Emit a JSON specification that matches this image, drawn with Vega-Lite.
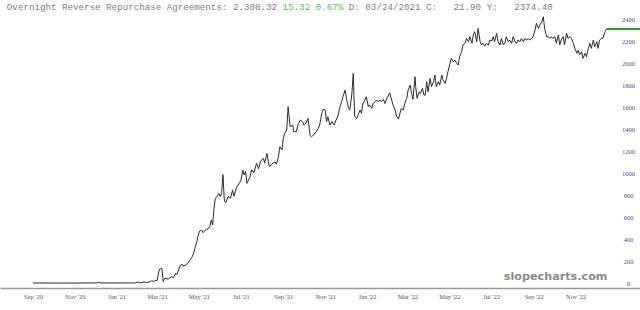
{
  "$schema": "https://vega.github.io/schema/vega-lite/v6.json",
  "width": 640,
  "height": 288,
  "padding": {"left": 0, "top": 0, "right": 0, "bottom": 22},
  "autosize": {"type": "none"},
  "background": "white",
  "config": {"view": {"stroke": null}, "axis": {"labelOverlap": false}, "axisY": {"tickCount": 13}},
  "datasets": {
    "rrp": [
      {"date": "2020-09-01", "value": 0.5}, {"date": "2020-10-10", "value": 0.3}, {"date": "2020-11-23", "value": 0.5},
      {"date": "2020-12-03", "value": 1}, {"date": "2020-12-06", "value": 6}, {"date": "2020-12-09", "value": 1},
      {"date": "2021-01-06", "value": 0.5}, {"date": "2021-01-28", "value": 1}, {"date": "2021-02-01", "value": 8},
      {"date": "2021-02-05", "value": 3}, {"date": "2021-02-10", "value": 10}, {"date": "2021-02-14", "value": 5},
      {"date": "2021-02-19", "value": 12}, {"date": "2021-02-21", "value": 20}, {"date": "2021-02-24", "value": 15},
      {"date": "2021-02-27", "value": 25}, {"date": "2021-03-01", "value": 22}, {"date": "2021-03-04", "value": 118},
      {"date": "2021-03-06", "value": 133}, {"date": "2021-03-08", "value": 133}, {"date": "2021-03-10", "value": 12},
      {"date": "2021-03-12", "value": 43}, {"date": "2021-03-17", "value": 36}, {"date": "2021-03-22", "value": 57},
      {"date": "2021-03-25", "value": 50}, {"date": "2021-03-28", "value": 88}, {"date": "2021-03-30", "value": 80},
      {"date": "2021-04-03", "value": 148}, {"date": "2021-04-06", "value": 173}, {"date": "2021-04-08", "value": 155},
      {"date": "2021-04-12", "value": 164}, {"date": "2021-04-15", "value": 185}, {"date": "2021-04-18", "value": 209},
      {"date": "2021-04-20", "value": 225}, {"date": "2021-04-23", "value": 264}, {"date": "2021-04-25", "value": 315},
      {"date": "2021-04-28", "value": 376}, {"date": "2021-04-30", "value": 436}, {"date": "2021-05-02", "value": 473},
      {"date": "2021-05-05", "value": 482}, {"date": "2021-05-07", "value": 457}, {"date": "2021-05-10", "value": 480},
      {"date": "2021-05-12", "value": 488}, {"date": "2021-05-15", "value": 497}, {"date": "2021-05-17", "value": 518},
      {"date": "2021-05-19", "value": 573}, {"date": "2021-05-21", "value": 527}, {"date": "2021-05-23", "value": 680},
      {"date": "2021-05-25", "value": 770}, {"date": "2021-05-28", "value": 794}, {"date": "2021-05-30", "value": 815},
      {"date": "2021-06-01", "value": 785}, {"date": "2021-06-03", "value": 815}, {"date": "2021-06-05", "value": 985},
      {"date": "2021-06-07", "value": 755}, {"date": "2021-06-09", "value": 730}, {"date": "2021-06-13", "value": 790},
      {"date": "2021-06-16", "value": 770}, {"date": "2021-06-19", "value": 845}, {"date": "2021-06-21", "value": 790},
      {"date": "2021-06-25", "value": 870}, {"date": "2021-06-27", "value": 890}, {"date": "2021-07-01", "value": 930},
      {"date": "2021-07-04", "value": 1027}, {"date": "2021-07-06", "value": 982}, {"date": "2021-07-08", "value": 1015},
      {"date": "2021-07-10", "value": 906}, {"date": "2021-07-14", "value": 960}, {"date": "2021-07-17", "value": 1030},
      {"date": "2021-07-20", "value": 1000}, {"date": "2021-07-24", "value": 1088}, {"date": "2021-07-27", "value": 1040},
      {"date": "2021-07-30", "value": 1110}, {"date": "2021-08-03", "value": 1133}, {"date": "2021-08-05", "value": 1090},
      {"date": "2021-08-08", "value": 1179}, {"date": "2021-08-10", "value": 1110}, {"date": "2021-08-12", "value": 1058},
      {"date": "2021-08-15", "value": 1080}, {"date": "2021-08-20", "value": 1103}, {"date": "2021-08-22", "value": 1080},
      {"date": "2021-08-25", "value": 1150}, {"date": "2021-08-27", "value": 1239}, {"date": "2021-08-30", "value": 1210},
      {"date": "2021-09-01", "value": 1315}, {"date": "2021-09-03", "value": 1361}, {"date": "2021-09-06", "value": 1391},
      {"date": "2021-09-08", "value": 1603}, {"date": "2021-09-11", "value": 1421}, {"date": "2021-09-15", "value": 1436},
      {"date": "2021-09-16", "value": 1376}, {"date": "2021-09-20", "value": 1376}, {"date": "2021-09-23", "value": 1451},
      {"date": "2021-09-26", "value": 1482}, {"date": "2021-09-29", "value": 1467}, {"date": "2021-10-01", "value": 1436},
      {"date": "2021-10-04", "value": 1451}, {"date": "2021-10-07", "value": 1497}, {"date": "2021-10-10", "value": 1345},
      {"date": "2021-10-12", "value": 1330}, {"date": "2021-10-15", "value": 1345}, {"date": "2021-10-19", "value": 1376},
      {"date": "2021-10-22", "value": 1406}, {"date": "2021-10-24", "value": 1436}, {"date": "2021-10-27", "value": 1542},
      {"date": "2021-10-29", "value": 1579}, {"date": "2021-11-01", "value": 1573}, {"date": "2021-11-03", "value": 1467},
      {"date": "2021-11-05", "value": 1512}, {"date": "2021-11-08", "value": 1436}, {"date": "2021-11-11", "value": 1467},
      {"date": "2021-11-14", "value": 1436}, {"date": "2021-11-17", "value": 1482}, {"date": "2021-11-20", "value": 1527},
      {"date": "2021-11-22", "value": 1588}, {"date": "2021-11-25", "value": 1648}, {"date": "2021-11-27", "value": 1694},
      {"date": "2021-11-30", "value": 1754}, {"date": "2021-12-02", "value": 1679}, {"date": "2021-12-05", "value": 1588},
      {"date": "2021-12-07", "value": 1573}, {"date": "2021-12-10", "value": 1724}, {"date": "2021-12-12", "value": 1906},
      {"date": "2021-12-14", "value": 1512}, {"date": "2021-12-17", "value": 1497}, {"date": "2021-12-19", "value": 1527},
      {"date": "2021-12-22", "value": 1573}, {"date": "2021-12-24", "value": 1542}, {"date": "2021-12-26", "value": 1633},
      {"date": "2021-12-29", "value": 1663}, {"date": "2021-12-31", "value": 1694}, {"date": "2022-01-03", "value": 1603},
      {"date": "2022-01-05", "value": 1618}, {"date": "2022-01-08", "value": 1588}, {"date": "2022-01-10", "value": 1633},
      {"date": "2022-01-13", "value": 1648}, {"date": "2022-01-15", "value": 1663}, {"date": "2022-01-17", "value": 1648},
      {"date": "2022-01-20", "value": 1664}, {"date": "2022-01-22", "value": 1648}, {"date": "2022-01-25", "value": 1670},
      {"date": "2022-01-27", "value": 1633}, {"date": "2022-01-30", "value": 1679}, {"date": "2022-02-01", "value": 1700},
      {"date": "2022-02-03", "value": 1730}, {"date": "2022-02-06", "value": 1664}, {"date": "2022-02-08", "value": 1618},
      {"date": "2022-02-11", "value": 1573}, {"date": "2022-02-13", "value": 1518}, {"date": "2022-02-16", "value": 1490},
      {"date": "2022-02-18", "value": 1542}, {"date": "2022-02-20", "value": 1588}, {"date": "2022-02-23", "value": 1573},
      {"date": "2022-02-25", "value": 1633}, {"date": "2022-02-28", "value": 1679}, {"date": "2022-03-02", "value": 1754},
      {"date": "2022-03-05", "value": 1800}, {"date": "2022-03-07", "value": 1724}, {"date": "2022-03-09", "value": 1670},
      {"date": "2022-03-12", "value": 1876}, {"date": "2022-03-13", "value": 1785}, {"date": "2022-03-15", "value": 1679},
      {"date": "2022-03-18", "value": 1739}, {"date": "2022-03-20", "value": 1724}, {"date": "2022-03-23", "value": 1770},
      {"date": "2022-03-25", "value": 1709}, {"date": "2022-03-27", "value": 1709}, {"date": "2022-03-29", "value": 1830},
      {"date": "2022-03-31", "value": 1739}, {"date": "2022-04-03", "value": 1861}, {"date": "2022-04-05", "value": 1785},
      {"date": "2022-04-08", "value": 1830}, {"date": "2022-04-10", "value": 1891}, {"date": "2022-04-12", "value": 1785},
      {"date": "2022-04-15", "value": 1830}, {"date": "2022-04-17", "value": 1800}, {"date": "2022-04-20", "value": 1891},
      {"date": "2022-04-22", "value": 1845}, {"date": "2022-04-25", "value": 1815}, {"date": "2022-04-27", "value": 1861},
      {"date": "2022-04-29", "value": 1921}, {"date": "2022-05-02", "value": 1997}, {"date": "2022-05-04", "value": 2042},
      {"date": "2022-05-07", "value": 2012}, {"date": "2022-05-09", "value": 2027}, {"date": "2022-05-12", "value": 1997},
      {"date": "2022-05-14", "value": 1982}, {"date": "2022-05-16", "value": 2058}, {"date": "2022-05-19", "value": 2103},
      {"date": "2022-05-21", "value": 2164}, {"date": "2022-05-24", "value": 2179}, {"date": "2022-05-26", "value": 2224},
      {"date": "2022-05-29", "value": 2194}, {"date": "2022-05-31", "value": 2240}, {"date": "2022-06-03", "value": 2179},
      {"date": "2022-06-05", "value": 2255}, {"date": "2022-06-07", "value": 2285}, {"date": "2022-06-10", "value": 2194},
      {"date": "2022-06-12", "value": 2315}, {"date": "2022-06-15", "value": 2194}, {"date": "2022-06-17", "value": 2164},
      {"date": "2022-06-19", "value": 2179}, {"date": "2022-06-22", "value": 2155}, {"date": "2022-06-24", "value": 2179},
      {"date": "2022-06-27", "value": 2164}, {"date": "2022-06-29", "value": 2209}, {"date": "2022-07-02", "value": 2200},
      {"date": "2022-07-04", "value": 2240}, {"date": "2022-07-06", "value": 2194}, {"date": "2022-07-09", "value": 2270},
      {"date": "2022-07-11", "value": 2194}, {"date": "2022-07-14", "value": 2164}, {"date": "2022-07-16", "value": 2224},
      {"date": "2022-07-19", "value": 2164}, {"date": "2022-07-21", "value": 2179}, {"date": "2022-07-23", "value": 2240},
      {"date": "2022-07-26", "value": 2194}, {"date": "2022-07-28", "value": 2209}, {"date": "2022-07-31", "value": 2179},
      {"date": "2022-08-02", "value": 2240}, {"date": "2022-08-05", "value": 2194}, {"date": "2022-08-07", "value": 2179},
      {"date": "2022-08-09", "value": 2209}, {"date": "2022-08-12", "value": 2194}, {"date": "2022-08-14", "value": 2224},
      {"date": "2022-08-17", "value": 2194}, {"date": "2022-08-19", "value": 2224}, {"date": "2022-08-22", "value": 2209},
      {"date": "2022-08-24", "value": 2224}, {"date": "2022-08-26", "value": 2209}, {"date": "2022-08-29", "value": 2224},
      {"date": "2022-08-31", "value": 2240}, {"date": "2022-09-03", "value": 2300}, {"date": "2022-09-05", "value": 2361},
      {"date": "2022-09-08", "value": 2315}, {"date": "2022-09-10", "value": 2345}, {"date": "2022-09-13", "value": 2376},
      {"date": "2022-09-15", "value": 2421}, {"date": "2022-09-17", "value": 2315}, {"date": "2022-09-20", "value": 2240},
      {"date": "2022-09-22", "value": 2240}, {"date": "2022-09-25", "value": 2224}, {"date": "2022-09-27", "value": 2240},
      {"date": "2022-09-29", "value": 2224}, {"date": "2022-10-02", "value": 2240}, {"date": "2022-10-04", "value": 2179},
      {"date": "2022-10-07", "value": 2255}, {"date": "2022-10-09", "value": 2164}, {"date": "2022-10-12", "value": 2224},
      {"date": "2022-10-14", "value": 2240}, {"date": "2022-10-16", "value": 2164}, {"date": "2022-10-19", "value": 2270},
      {"date": "2022-10-21", "value": 2224}, {"date": "2022-10-24", "value": 2240}, {"date": "2022-10-26", "value": 2224},
      {"date": "2022-10-29", "value": 2179}, {"date": "2022-10-31", "value": 2133}, {"date": "2022-11-03", "value": 2088},
      {"date": "2022-11-05", "value": 2118}, {"date": "2022-11-07", "value": 2073}, {"date": "2022-11-10", "value": 2103},
      {"date": "2022-11-12", "value": 2042}, {"date": "2022-11-15", "value": 2088}, {"date": "2022-11-17", "value": 2058},
      {"date": "2022-11-19", "value": 2118}, {"date": "2022-11-22", "value": 2179}, {"date": "2022-11-24", "value": 2133},
      {"date": "2022-11-27", "value": 2209}, {"date": "2022-11-29", "value": 2148}, {"date": "2022-12-02", "value": 2194},
      {"date": "2022-12-04", "value": 2133}, {"date": "2022-12-06", "value": 2209}, {"date": "2022-12-09", "value": 2224},
      {"date": "2022-12-11", "value": 2224}, {"date": "2022-12-14", "value": 2285}, {"date": "2022-12-16", "value": 2308.32}
    ],
    "last": [{"date": "2022-12-16", "value": 2308.32}]
  },
  "layer": [
    {
      "data": {"name": "rrp"},
      "mark": {"type": "line", "color": "#2b2b2b", "strokeWidth": 1, "interpolate": "linear"},
      "encoding": {
        "x": {
          "field": "date", "type": "temporal",
          "scale": {"domain": [{"year": 2020, "month": 7, "date": 15}, {"year": 2023, "month": 2, "date": 3}], "nice": false},
          "axis": {
            "title": null, "grid": false, "ticks": false,
            "domainColor": "#9a9a9a", "domainWidth": 1.5,
            "format": "%b '%y", "labelFont": "Liberation Serif", "labelFontSize": 6.5, "labelColor": "#4a4a95",
            "labelPadding": 5, "labelBaseline": "top", "labelAlign": "center", "labelFlush": false, "labelOverlap": false,
            "values": [
              {"year": 2020, "month": 9, "date": 1}, {"year": 2020, "month": 11, "date": 1},
              {"year": 2021, "month": 1, "date": 1}, {"year": 2021, "month": 3, "date": 1},
              {"year": 2021, "month": 5, "date": 1}, {"year": 2021, "month": 7, "date": 1},
              {"year": 2021, "month": 9, "date": 1}, {"year": 2021, "month": 11, "date": 1},
              {"year": 2022, "month": 1, "date": 1}, {"year": 2022, "month": 3, "date": 1},
              {"year": 2022, "month": 5, "date": 1}, {"year": 2022, "month": 7, "date": 1},
              {"year": 2022, "month": 9, "date": 1}, {"year": 2022, "month": 11, "date": 1}
            ]
          }
        },
        "y": {
          "field": "value", "type": "quantitative",
          "scale": {"domain": [-45, 2573], "nice": false, "zero": false},
          "axis": {
            "orient": "right", "title": null, "grid": false, "ticks": false, "domain": false,
            "offset": -12, "labelPadding": 0, "labelAlign": "center", "labelBaseline": "middle",
            "labelFont": "Liberation Serif", "labelFontSize": 6.5, "labelColor": "#4a4a95", "format": "d",
            "tickCount": 13,
            "values": [0, 200, 400, 600, 800, 1000, 1200, 1400, 1600, 1800, 2000, 2200, 2400],
            "labelFlush": false, "labelOverlap": false
          }
        }
      }
    },
    {
      "data": {"name": "last"},
      "mark": {"type": "rule", "color": "#2e9a2e", "strokeWidth": 2},
      "encoding": {
        "x": {"field": "date", "type": "temporal", "scale": {"domain": [{"year": 2020, "month": 7, "date": 15}, {"year": 2023, "month": 2, "date": 3}], "nice": false}},
        "x2": {"datum": {"year": 2023, "month": 2, "date": 3}},
        "y": {"field": "value", "type": "quantitative", "scale": {"domain": [-45, 2573], "nice": false, "zero": false}}
      }
    },
    {
      "data": {"values": [{"label": "slopecharts.com"}]},
      "mark": {"type": "text", "font": "DejaVu Sans", "fontWeight": "bold", "fontSize": 11.2, "color": "#8a8a8a", "align": "center", "baseline": "alphabetic"},
      "encoding": {
        "text": {"field": "label"},
        "x": {"datum": {"year": 2022, "month": 10, "date": 3}, "type": "temporal"},
        "y": {"datum": 27, "type": "quantitative"}
      }
    },
    {
      "data": {"values": [{"label": "Overnight Reverse Repurchase Agreements: 2.308.32"}]},
      "mark": {"type": "text", "font": "Liberation Mono", "fontSize": 9.2, "color": "#808080", "align": "left", "baseline": "alphabetic"},
      "encoding": {
        "text": {"field": "label"},
        "x": {"datum": {"year": 2020, "month": 7, "date": 25}, "type": "temporal"},
        "y": {"datum": 2482, "type": "quantitative"}
      }
    },
    {
      "data": {"values": [{"label": "15.32 0.67%"}]},
      "mark": {"type": "text", "font": "Liberation Mono", "fontSize": 9.2, "color": "#5cb85c", "align": "left", "baseline": "alphabetic"},
      "encoding": {
        "text": {"field": "label"},
        "x": {"datum": {"year": 2021, "month": 8, "date": 31}, "type": "temporal"},
        "y": {"datum": 2482, "type": "quantitative"}
      }
    },
    {
      "data": {"values": [{"label": "D: 03/24/2021 C:\u00a0\u00a0\u00a021.90 Y:\u00a0\u00a0\u00a02374.40"}]},
      "mark": {"type": "text", "font": "Liberation Mono", "fontSize": 9.2, "color": "#808080", "align": "left", "baseline": "alphabetic"},
      "encoding": {
        "text": {"field": "label"},
        "x": {"datum": {"year": 2021, "month": 12, "date": 5, "hours": 12}, "type": "temporal"},
        "y": {"datum": 2482, "type": "quantitative"}
      }
    }
  ]
}
